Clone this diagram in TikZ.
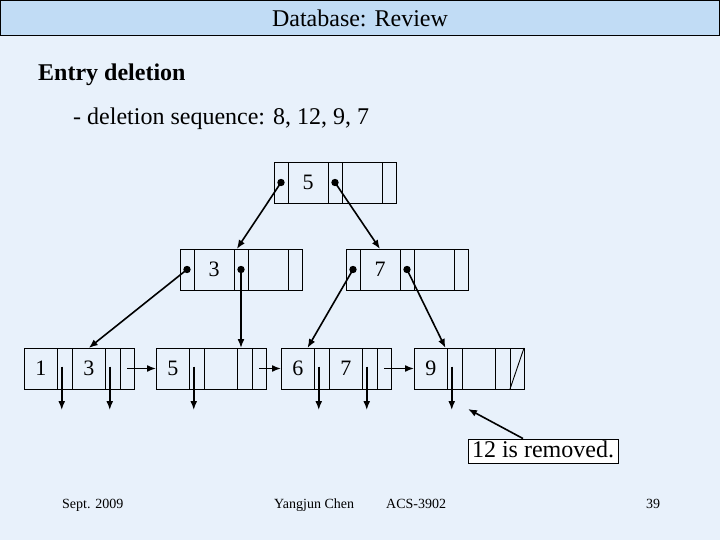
\documentclass[tikz,border=0pt]{standalone}
\usepackage{fontspec}
\setmainfont{Liberation Serif}
\usepackage{tikz}
\usetikzlibrary{arrows.meta,positioning,calc}
\definecolor{slidebg}{RGB}{232,241,251}
\definecolor{headbg}{RGB}{193,220,245}

\begin{document}
\begin{tikzpicture}[
    x=1pt, y=-1pt,
    >={Latex[length=9pt,width=7pt]},
    cell/.style={draw, line width=0.9pt, inner sep=0pt, outer sep=0pt, minimum height=41pt},
    ptr/.style={cell, minimum width=14pt},
    key/.style={cell, minimum width=40pt, font=\fontsize{22}{24}\selectfont},
    lptr/.style={cell, minimum width=14.5pt},
    lkey/.style={cell, minimum width=33.5pt, font=\fontsize{22}{24}\selectfont},
    link/.style={->, line width=1.6pt},
    txt/.style={inner sep=0pt, font=\fontsize{24}{26}\selectfont},
    foot/.style={inner sep=0pt, anchor=base west, font=\fontsize{14}{16}\selectfont},
  ]
  \fill[slidebg] (0,0) rectangle (720,540);
  \useasboundingbox (0,0) rectangle (720,540);

  %% ---- slide header and heading ------------------------------------------
  \draw[fill=headbg, line width=1pt] (0.5,0.5) rectangle (719.5,35.5);
  \node[txt, anchor=base] (head) at (360,27) {Database: Review};
  \node[txt, anchor=base west, font=\bfseries\fontsize{24}{26}\selectfont] (title) at (38,81) {Entry deletion};
  \node[txt, anchor=base west] (seq) at (73,125) {- deletion sequence: 8, 12, 9, 7};

  %% ---- root ----------------------------------------------------------------
  \node[ptr] (r-p1) at (281,182.5) {};
  \node[key, right=0pt of r-p1] (r-k1) {5};
  \node[ptr, right=0pt of r-k1] (r-p2) {};
  \node[key, right=0pt of r-p2] (r-k2) {};
  \node[ptr, right=0pt of r-k2] (r-p3) {};

  %% ---- internal nodes ------------------------------------------------------
  \node[ptr] (a-p1) at (187,269.5) {};
  \node[key, right=0pt of a-p1] (a-k1) {3};
  \node[ptr, right=0pt of a-k1] (a-p2) {};
  \node[key, right=0pt of a-p2] (a-k2) {};
  \node[ptr, right=0pt of a-k2] (a-p3) {};

  \node[ptr] (b-p1) at (353,269.5) {};
  \node[key, right=0pt of b-p1] (b-k1) {7};
  \node[ptr, right=0pt of b-k1] (b-p2) {};
  \node[key, right=0pt of b-p2] (b-k2) {};
  \node[ptr, right=0pt of b-k2] (b-p3) {};

  %% ---- leaves --------------------------------------------------------------
  \node[lkey] (l1-k1) at (40.75,368.5) {1};
  \node[lptr, right=0pt of l1-k1] (l1-p1) {};
  \node[lkey, right=0pt of l1-p1] (l1-k2) {3};
  \node[lptr, right=0pt of l1-k2] (l1-p2) {};
  \node[ptr, right=0pt of l1-p2] (l1-p3) {};

  \node[lkey] (l2-k1) at (172.75,368.5) {5};
  \node[lptr, right=0pt of l2-k1] (l2-p1) {};
  \node[lkey, right=0pt of l2-p1] (l2-k2) {};
  \node[lptr, right=0pt of l2-k2] (l2-p2) {};
  \node[ptr, right=0pt of l2-p2] (l2-p3) {};

  \node[lkey] (l3-k1) at (297.75,368.5) {6};
  \node[lptr, right=0pt of l3-k1] (l3-p1) {};
  \node[lkey, right=0pt of l3-p1] (l3-k2) {7};
  \node[lptr, right=0pt of l3-k2] (l3-p2) {};
  \node[ptr, right=0pt of l3-p2] (l3-p3) {};

  \node[lkey] (l4-k1) at (430.75,368.5) {9};
  \node[lptr, right=0pt of l4-k1] (l4-p1) {};
  \node[lkey, right=0pt of l4-p1] (l4-k2) {};
  \node[lptr, right=0pt of l4-k2] (l4-p2) {};
  \node[ptr, right=0pt of l4-p2] (l4-p3) {};
  \draw[line width=0.9pt] (l4-p3.south west) -- (l4-p3.north east);

  %% ---- tree pointers -------------------------------------------------------
  \foreach \c in {r-p1,r-p2,a-p1,a-p2,b-p1,b-p2}
    \fill (\c.center) circle (3.7pt);
  \draw[link] (r-p1.center) -- ($(a-p2.north west)!0.2!(a-p2.north east)$);
  \draw[link] (r-p2.center) -- (b-k1.north);
  \draw[link] (a-p1.center) -- (l1-k2.north);
  \draw[link] (a-p2.center) -- (a-p2.center |- l2-p2.north);
  \draw[link] (b-p1.center) -- ($(l3-k1.north east)+(-7,0)$);
  \draw[link] (b-p2.center) -- ($(l4-k1.north east)+(-2,0)$);

  %% ---- record pointers and leaf chain --------------------------------------
  \foreach \c in {l1-p1,l1-p2,l2-p1,l3-p1,l3-p2,l4-p1} {
    \coordinate (\c-rec) at ($(\c.center)+(-3,41.5)$);
    \draw[link] ($(\c.center)+(-3,-2)$) -- (\c-rec);
  }
  \draw[link] (l1-p3.center) -- (l2-k1.west);
  \draw[link] (l2-p3.center) -- (l3-k1.west);
  \draw[link] (l3-p3.center) -- (l4-k1.west);

  %% ---- callout -------------------------------------------------------------
  \node[draw, fill=white, line width=0.9pt, inner xsep=4pt, inner ysep=1pt,
        text height=17pt, text depth=5pt,
        font=\fontsize{24}{26}\selectfont] (rem) at (543,451) {12 is removed.};
  \coordinate (gone) at (468,409);
  \draw[link] ($(rem.north)+(-20,0)$) -- (gone);

  %% ---- footer --------------------------------------------------------------
  \node[foot] (date) at (62,508) {Sept. 2009};
  \node[foot] (author) at (274,508) {Yangjun Chen};
  \node[foot] (course) at (386,508) {ACS-3902};
  \node[foot] (page) at (646,508) {39};
\end{tikzpicture}
\end{document}
